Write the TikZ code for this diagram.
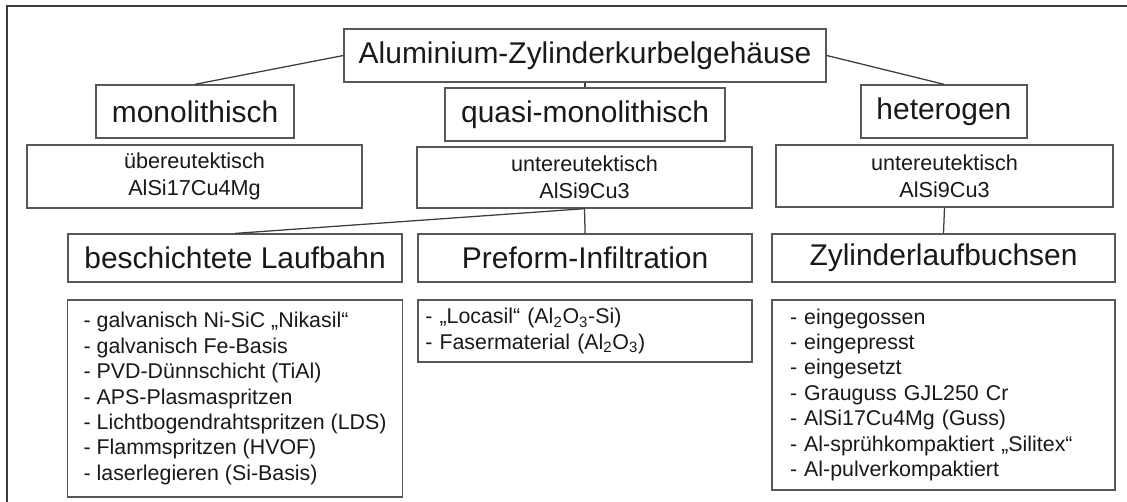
\documentclass[tikz,border=0pt]{standalone}
\usepackage{fontspec}
\setmainfont{Liberation Sans}
\definecolor{boxgray}{RGB}{88,88,88}
\definecolor{linegray}{RGB}{60,60,60}
\definecolor{textdark}{RGB}{25,25,25}

\begin{document}
\begin{tikzpicture}[
        frame/.style={
            draw=linegray,
            line width=1.3pt
          },
        titlebox/.style={
            draw=boxgray,
            fill=white,
            line width=1.0pt,
            inner sep=0pt,
            font=\fontsize{21.3}{25}\selectfont,
            text=textdark,
            align=center
          },
        alloybox/.style={
            draw=boxgray,
            fill=white,
            line width=1.0pt,
            inner sep=0pt,
            font=\fontsize{15.4}{19.5}\selectfont,
            text=textdark,
            align=center
          },
        itembox/.style={
            draw=boxgray,
            fill=white,
            line width=1.0pt,
            inner ysep=0pt,
            font=\fontsize{15.2}{18.1}\selectfont,
            text=textdark,
            align=left
          },
        link/.style={linegray, line width=0.9pt}
      ]
      \useasboundingbox (-14.0875,-6.2625) rectangle (14.0875,6.2625);
      \draw[frame] (-13.91,-6.40) -- (-13.91,6.11) -- (14.20,6.11);

      % top level
      \node[titlebox, minimum width=12.05cm, minimum height=1.325cm] (root) at (0.54,4.875) {Aluminium-Zylinderkurbelgehäuse};

      \node[titlebox, minimum width=4.95cm, minimum height=1.325cm] (mono) at (-9.21,3.475) {monolithisch};
      \node[titlebox, minimum width=7.00cm, minimum height=1.325cm] (quasi) at (0.54,3.40) {quasi-monolithisch};
      \node[titlebox, minimum width=4.15cm, minimum height=1.325cm] (hetero) at (9.51,3.475) {heterogen};

      \node[alloybox, minimum width=8.375cm, minimum height=1.575cm] (ueber) at (-9.225,1.85) {übereutektisch\\AlSi17Cu4Mg};
      \node[alloybox, minimum width=8.375cm, minimum height=1.525cm] (unter_mid) at (0.525,1.825) {untereutektisch\\AlSi9Cu3};
      \node[alloybox, minimum width=8.425cm, minimum height=1.55cm] (unter_right) at (9.525,1.86) {untereutektisch\\AlSi9Cu3};

      \draw[link] (root.west) -- (mono.north);
      \draw[link] (root.east) -- (hetero.north);
      \draw[link] (root.south) -- (quasi.north);

      % lower level
      \node[titlebox, minimum width=8.35cm, minimum height=1.2cm] (besch) at (-8.21,-0.19) {beschichtete Laufbahn};
      \node[titlebox, minimum width=8.35cm, minimum height=1.2cm] (preform) at (0.54,-0.19) {Preform-Infiltration};
      \node[titlebox, minimum width=8.575cm, minimum height=1.2cm] (zyl) at (9.50,-0.19) {Zylinderlaufbuchsen};

      \draw[link] (unter_mid.south) -- (besch.north);
      \draw[link] (unter_mid.south) -- (preform.north);
      \draw[link] (unter_right.south) -- (zyl.north);

      \node[itembox, inner xsep=0.40cm, minimum width=8.35cm, minimum height=4.925cm] (besch_list) at (-8.21,-3.70) {- galvanisch Ni-SiC „Nikasil“\\- galvanisch Fe-Basis\\- PVD-Dünnschicht (TiAl)\\- APS-Plasmaspritzen\\- Lichtbogendrahtspritzen (LDS)\\- Flammspritzen (HVOF)\\- laserlegieren (Si-Basis)};
      \node[itembox, inner xsep=0.18cm, text width=7.99cm, minimum height=1.55cm] (preform_list) at (0.54,-2.01) {- „Locasil“ (Al\textsubscript{2}O\textsubscript{3}-Si)\\- Fasermaterial (Al\textsubscript{2}O\textsubscript{3})};
      \node[itembox, inner xsep=0.45cm, text width=7.675cm, minimum height=4.75cm] (zyl_list) at (9.50,-3.61) {- eingegossen\\- eingepresst\\- eingesetzt\\- Grauguss GJL250 Cr\\- AlSi17Cu4Mg (Guss)\\- Al-sprühkompaktiert „Silitex“\\- Al-pulverkompaktiert};
    \end{tikzpicture}
\end{document}
